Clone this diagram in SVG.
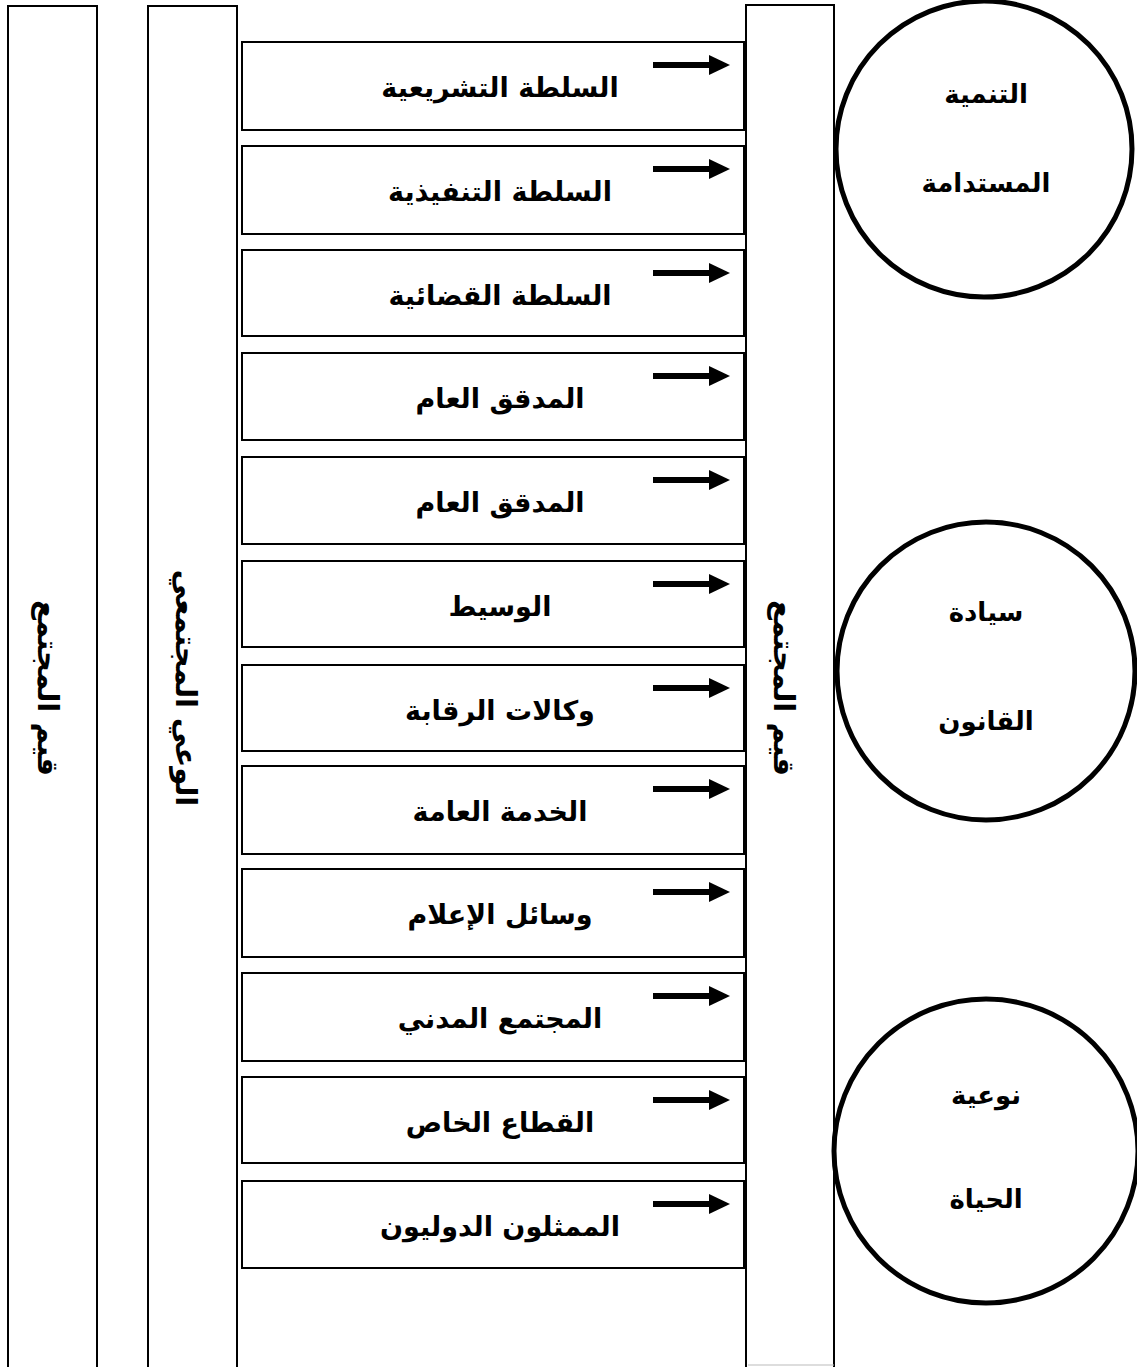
<svg xmlns="http://www.w3.org/2000/svg" width="1137" height="1367" viewBox="0 0 1137 1367">
<style>
.col{fill:#fff;stroke:#000;stroke-width:2}
.box{fill:#fff;stroke:#000;stroke-width:2}
.t{font-family:"DejaVu Sans",sans-serif;font-weight:bold;font-size:27px;fill:#000;text-anchor:middle}
.ct{font-family:"DejaVu Sans",sans-serif;font-weight:bold;font-size:26px;fill:#000;text-anchor:middle}
.v{font-family:"DejaVu Sans",sans-serif;font-weight:bold;font-size:29px;fill:#000;text-anchor:middle;dominant-baseline:central}
.c{fill:#fff;stroke:#000;stroke-width:5}
.arr{stroke:#000;stroke-width:6}
</style>
<defs>
<g id="arrow"><line class="arr" x1="653" y1="0" x2="712" y2="0"/><polygon points="709,-10 730,0 709,10" fill="#000"/></g>
</defs>
<rect width="1137" height="1367" fill="#fff"/>
<g id="col-left">
<rect class="col" x="8" y="6" width="89" height="1380"/>
<text class="v" transform="translate(48,688) rotate(90)">قيم المجتمع</text>
</g>
<g id="col-awareness">
<rect class="col" x="148" y="6" width="89" height="1380"/>
<text class="v" transform="translate(186,688) rotate(90)">الوعي المجتمعي</text>
</g>
<g id="col-right">
<rect class="col" x="746" y="5" width="88" height="1380"/>
<line x1="748" y1="1365" x2="834" y2="1365" stroke="#bbb" stroke-width="1"/>
<text class="v" transform="translate(784,688) rotate(90)">قيم المجتمع</text>
</g>
<g id="box1"><rect class="box" x="242" y="42" width="502" height="88"/><text class="t" x="500" y="97">السلطة التشريعية</text></g>
<g id="box2"><rect class="box" x="242" y="146" width="502" height="88"/><text class="t" x="500" y="201">السلطة التنفيذية</text></g>
<g id="box3"><rect class="box" x="242" y="250" width="502" height="86"/><text class="t" x="500" y="305">السلطة القضائية</text></g>
<g id="box4"><rect class="box" x="242" y="353" width="502" height="87"/><text class="t" x="500" y="408">المدقق العام</text></g>
<g id="box5"><rect class="box" x="242" y="457" width="502" height="87"/><text class="t" x="500" y="512">المدقق العام</text></g>
<g id="box6"><rect class="box" x="242" y="561" width="502" height="86"/><text class="t" x="500" y="616">الوسيط</text></g>
<g id="box7"><rect class="box" x="242" y="665" width="502" height="86"/><text class="t" x="500" y="720">وكالات الرقابة</text></g>
<g id="box8"><rect class="box" x="242" y="766" width="502" height="88"/><text class="t" x="500" y="821">الخدمة العامة</text></g>
<g id="box9"><rect class="box" x="242" y="869" width="502" height="88"/><text class="t" x="500" y="924">وسائل الإعلام</text></g>
<g id="box10"><rect class="box" x="242" y="973" width="502" height="88"/><text class="t" x="500" y="1028">المجتمع المدني</text></g>
<g id="box11"><rect class="box" x="242" y="1077" width="502" height="86"/><text class="t" x="500" y="1132">القطاع الخاص</text></g>
<g id="box12"><rect class="box" x="242" y="1181" width="502" height="87"/><text class="t" x="500" y="1236">الممثلون الدوليون</text></g>
<g id="circle1"><circle class="c" cx="984" cy="149" r="148"/><text class="ct" x="986" y="103">التنمية</text><text class="ct" x="986" y="192">المستدامة</text></g>
<g id="circle2"><circle class="c" cx="986" cy="671" r="149"/><text class="ct" x="986" y="621">سيادة</text><text class="ct" x="986" y="730">القانون</text></g>
<g id="circle3"><circle class="c" cx="986" cy="1151" r="152"/><text class="ct" x="986" y="1104">نوعية</text><text class="ct" x="986" y="1208">الحياة</text></g>
<g id="connectors">
<use href="#arrow" y="65"/>
<use href="#arrow" y="169"/>
<use href="#arrow" y="273"/>
<use href="#arrow" y="376"/>
<use href="#arrow" y="480"/>
<use href="#arrow" y="584"/>
<use href="#arrow" y="688"/>
<use href="#arrow" y="789"/>
<use href="#arrow" y="892"/>
<use href="#arrow" y="996"/>
<use href="#arrow" y="1100"/>
<use href="#arrow" y="1204"/>
</g>
</svg>
